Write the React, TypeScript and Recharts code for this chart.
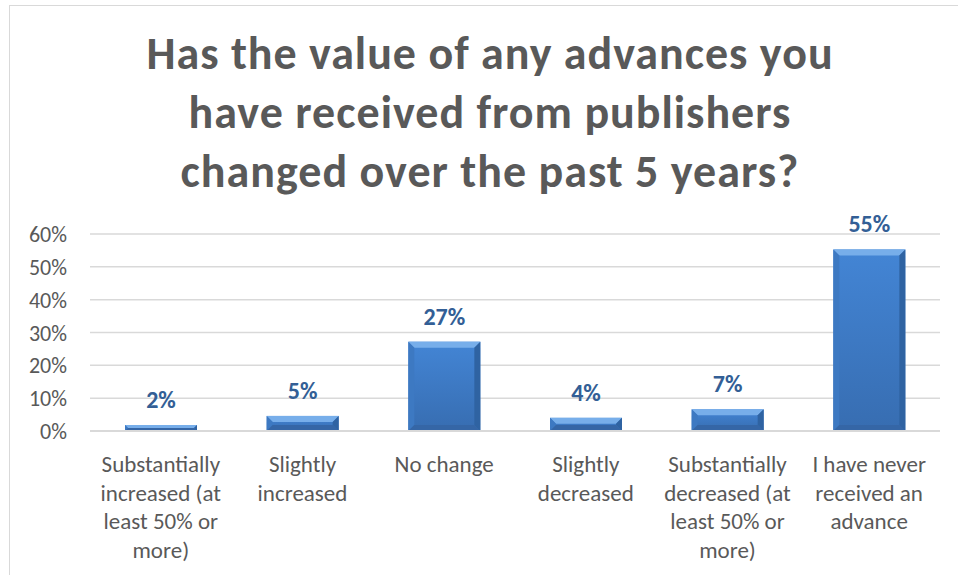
import React from 'react'
import { BarChart, Bar, XAxis, YAxis, CartesianGrid, LabelList } from 'recharts'

const titleLines = [
  'Has the value of any advances you',
  'have received from publishers',
  'changed over the past 5 years?',
]
const categories = [
  'Substantially increased (at least 50% or more)',
  'Slightly increased',
  'No change',
  'Slightly decreased',
  'Substantially decreased (at least 50% or more)',
  'I have never received an advance',
]
const shares = [1.8, 4.6, 27.2, 4.0, 6.6, 55.3]
const yTicks = [0, 10, 20, 30, 40, 50, 60]

const FONT = 'Carlito, Calibri, Lato, sans-serif'
const GREY = '#595959'

const data = categories.map((c, i) => ({ name: c, share: shares[i] }))

function wrap(label: string, max = 15) {
  const lines: string[] = []
  let cur = ''
  for (const w of label.split(' ')) {
    if (cur && (cur + ' ' + w).length > max) { lines.push(cur); cur = w }
    else cur = cur ? cur + ' ' + w : w
  }
  if (cur) lines.push(cur)
  return lines
}

function CatTick(props: any) {
  const { x, y, payload } = props
  const lines = wrap(payload.value)
  return (
    <text x={x} y={y + 41} textAnchor="middle" fill={GREY} fontSize={23} fontFamily={FONT}>
      {lines.map((l, i) => <tspan key={i} x={x} dy={i === 0 ? 0 : 28.5}>{l}</tspan>)}
    </text>
  )
}

function PctTick(props: any) {
  const { y, payload } = props
  return (
    <text x={67} y={y + 8} textAnchor="end" fill={GREY} fontSize={22} fontFamily={FONT}>
      {payload.value + '%'}
    </text>
  )
}

function BevelBar(props: any) {
  const { x, y, width: w, height: h } = props
  if (!h || h <= 0) return null
  const b = Math.min(6, h / 2)
  return (
    <g>
      <rect x={x} y={y} width={w} height={h} fill="url(#barBody)" />
      <polygon points={`${x},${y} ${x + w},${y} ${x + w - b},${y + b} ${x + b},${y + b}`} fill="#77AEEA" />
      <polygon points={`${x},${y} ${x + b},${y + b} ${x + b},${y + h - b} ${x},${y + h}`} fill="#3D79C2" />
      <polygon points={`${x + w},${y} ${x + w - b},${y + b} ${x + w - b},${y + h - b} ${x + w},${y + h}`} fill="#2F63A2" />
      <polygon points={`${x},${y + h} ${x + b},${y + h - b} ${x + w - b},${y + h - b} ${x + w},${y + h}`} fill="#3566A6" />
    </g>
  )
}

function TopLabel(props: any) {
  const { x, y, width, value } = props
  return (
    <text x={x + width / 2} y={y - 17} textAnchor="middle" fill="#335F96" fontSize={24} fontWeight="bold" fontFamily={FONT}>
      {Math.round(value) + '%'}
    </text>
  )
}

export default function App() {
  return (
    <div style={{ position: 'absolute', left: 0, top: 0, width: 958, height: 575, background: '#fff', overflow: 'hidden' }}>
      <div style={{ position: 'absolute', left: 9, top: 5, width: 960, height: 600, borderLeft: '1px solid #D9D9D9', borderTop: '1px solid #D9D9D9' }} />
      <svg width={958} height={200} style={{ position: 'absolute', left: 0, top: 0 }}>
        {titleLines.map((t, i) => (
          <text key={i} x={490} y={69 + i * 59} textAnchor="middle" fill={GREY} fontSize={46} letterSpacing={1} fontWeight="bold" fontFamily={FONT}>{t}</text>
        ))}
      </svg>
      <div style={{ position: 'absolute', left: 0, top: 0 }}>
        <BarChart width={958} height={575} data={data} margin={{ top: 234, right: 18, bottom: 0, left: 10 }}>
          <defs>
            <linearGradient id="barBody" x1="0" y1="0" x2="0" y2="1">
              <stop offset="0%" stopColor="#4385D5" />
              <stop offset="100%" stopColor="#376DB1" />
            </linearGradient>
          </defs>
          <CartesianGrid vertical={false} stroke="#D9D9D9" strokeWidth={1.5} />
          <XAxis dataKey="name" interval={0} height={144} tickLine={false} tickSize={0} tickMargin={0}
            axisLine={{ stroke: '#D9D9D9', strokeWidth: 2 }} tick={<CatTick />} />
          <YAxis width={80} domain={[0, 60]} ticks={yTicks} axisLine={false} tickLine={false} tickSize={0} tick={<PctTick />} />
          <Bar dataKey="share" barSize={72} shape={<BevelBar />} isAnimationActive={false}>
            <LabelList dataKey="share" content={<TopLabel />} />
          </Bar>
        </BarChart>
      </div>
    </div>
  )
}
